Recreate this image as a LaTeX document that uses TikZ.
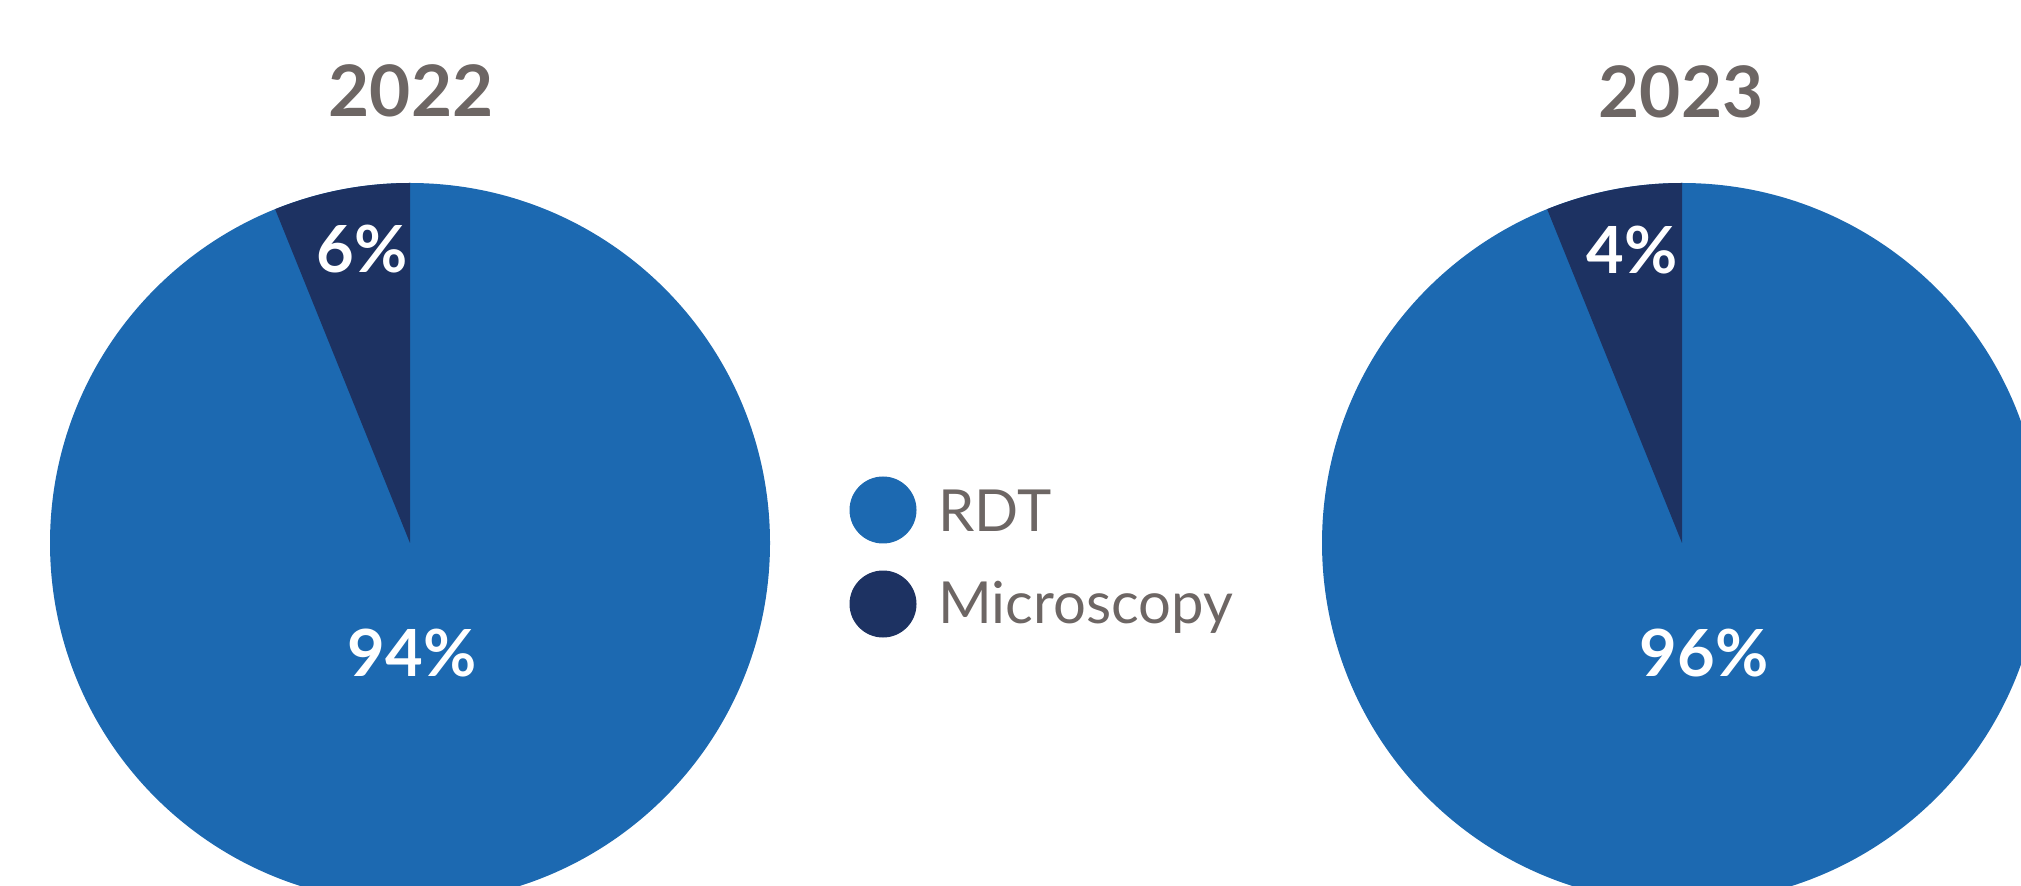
\documentclass[tikz,border=0pt]{standalone}
\usepackage{fontspec}
\setmainfont{Lato}
\usepackage{tikz}
\definecolor{rdtblue}{HTML}{1C69B1}
\definecolor{microblue}{HTML}{1D3262}
\definecolor{labelgray}{HTML}{6D6664}

\begin{document}
\begin{tikzpicture}[x=0.5pt, y=0.5pt,
	year/.style={font=\fontsize{35.5}{40}\selectfont\bfseries, text=labelgray, inner sep=0, anchor=base},
	share/.style={font=\fontsize{32.5}{38}\selectfont\bfseries, text=white, inner sep=0, anchor=base},
	dot/.style={circle, inner sep=0, minimum size=33.5pt},
	keytext/.style={font=\fontsize{29}{34}\selectfont, text=labelgray, inner sep=0, anchor=base west}]
	\useasboundingbox (0,0) rectangle (2021,-886);
	\coordinate (c22) at (410,-543);
	\coordinate (c23) at (1682,-543);
	\begin{scope}
		\clip (0,0) rectangle (2021,-886);
		% 2022
		\fill[rdtblue] (c22) circle [radius=360];
		\fill[microblue] (c22) -- ++(90:360) arc [start angle=90, end angle=112, radius=360] -- cycle;
		% 2023
		\fill[rdtblue] (c23) circle [radius=360];
		\fill[microblue] (c23) -- ++(90:360) arc [start angle=90, end angle=112, radius=360] -- cycle;
	\end{scope}
	\node (y22) at (411,-117) [year] {2022};
	\node (y23) at (1681,-118) [year] {2023};
	\node (m22) at (362,-273) [share] {6\%};
	\node (r22) at (412,-676) [share] {94\%};
	\node (m23) at (1632,-274) [share] {4\%};
	\node (r23) at (1704,-676) [share] {96\%};
	% legend
	\node (rdt) at (883,-510) [dot, fill=rdtblue] {};
	\node (micro) at (883,-604) [dot, fill=microblue] {};
	\node (rdtl) at (938,-531) [keytext] {RDT};
	\node (microl) at (938,-623) [keytext] {Microscopy};
\end{tikzpicture}
\end{document}
